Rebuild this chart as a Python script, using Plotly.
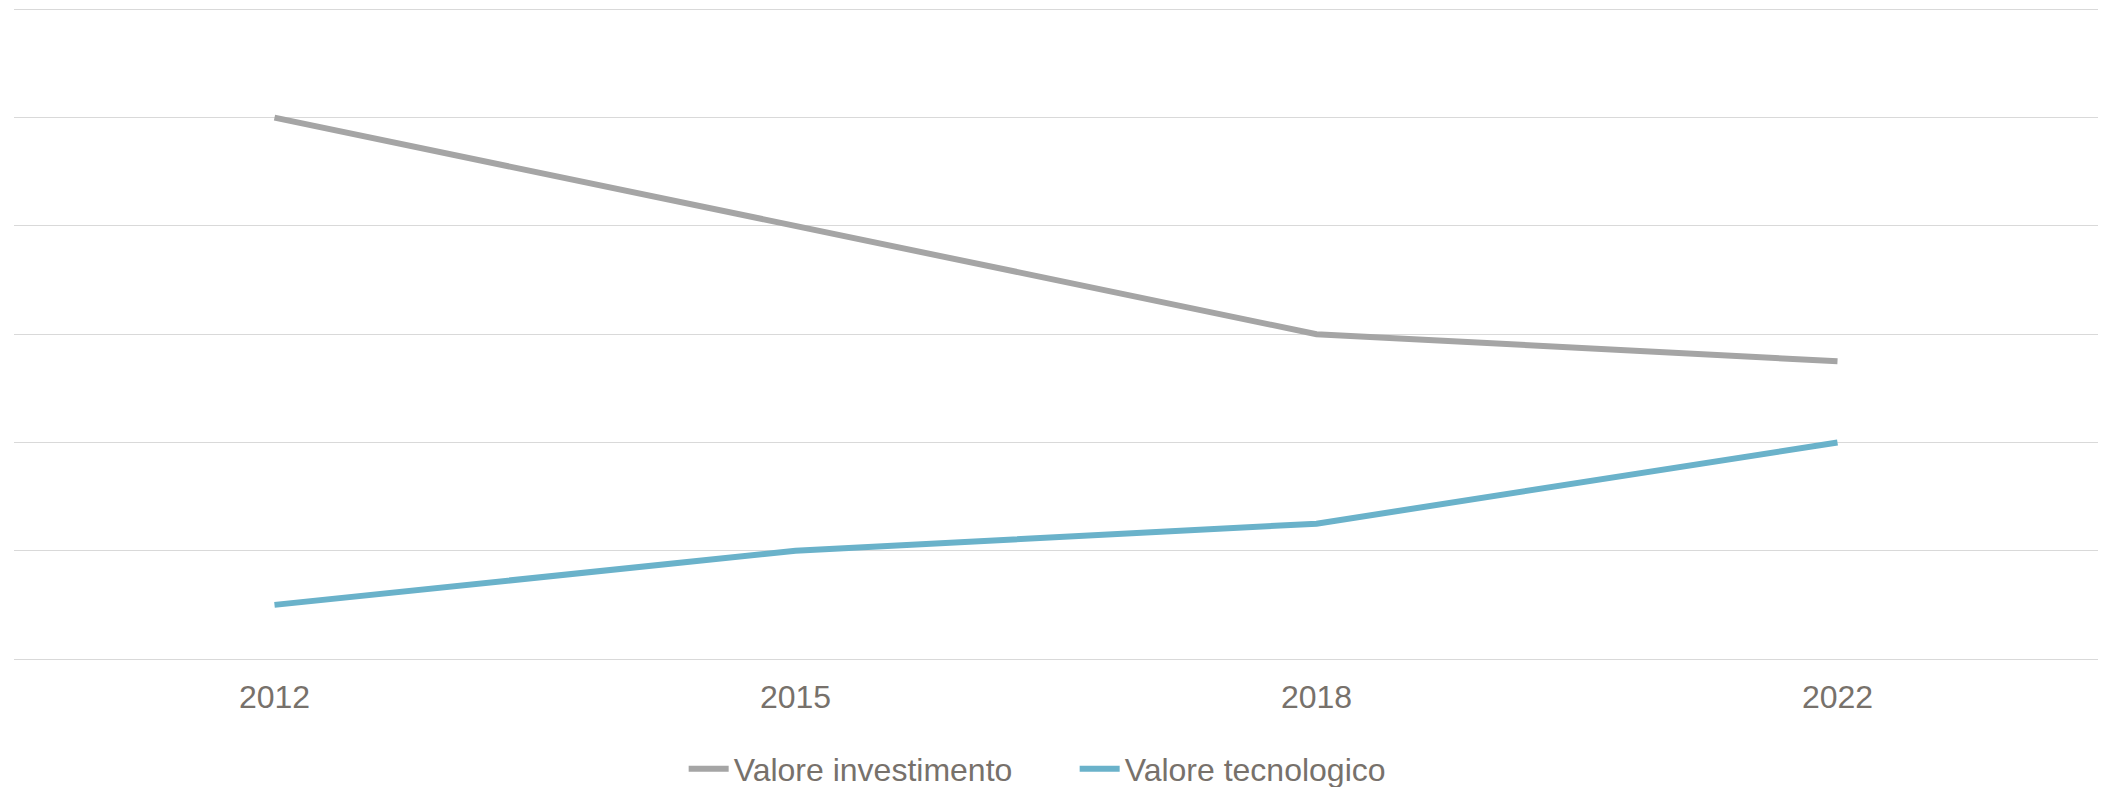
import plotly.graph_objects as go

years = ["2012", "2015", "2018", "2022"]
valore_investimento = [5, 4, 3, 2.75]
valore_tecnologico = [0.5, 1, 1.25, 2]

fig = go.Figure()
fig.add_trace(go.Scatter(x=years, y=valore_investimento, mode="lines",
                         name="Valore investimento",
                         line=dict(color="#A5A5A5", width=6)))
fig.add_trace(go.Scatter(x=years, y=valore_tecnologico, mode="lines",
                         name="Valore tecnologico",
                         line=dict(color="#6AB2CA", width=6)))

fig.update_layout(
    width=2101, height=787,
    margin=dict(l=14, r=3, t=4, b=128, autoexpand=False),
    plot_bgcolor="white", paper_bgcolor="white",
    font=dict(family="Liberation Sans, Arial, sans-serif", size=32, color="#77716B"),
    showlegend=True,
    legend=dict(orientation="h", x=0.5115, xanchor="center", xref="container",
                y=1 - 769 / 787, yanchor="middle", yref="container",
                font=dict(size=32, color="#77716B"), itemwidth=40,
                entrywidth=336, tracegroupgap=0),
    xaxis=dict(type="category", range=[-0.5, 3.5], showgrid=False, zeroline=False,
               showline=False, ticks="", ticklabelstandoff=16, automargin=False),
    yaxis=dict(range=[0, 6.05], tickvals=[1, 2, 3, 4, 5, 6], showticklabels=False,
               showgrid=True, gridcolor="#D9D9D9", gridwidth=1.3, zeroline=True,
               zerolinecolor="#D9D9D9", zerolinewidth=1.3, showline=False,
               automargin=False),
)

fig.write_html("out.html", config={"displayModeBar": False},
               post_script="document.body.style.margin='0';")
